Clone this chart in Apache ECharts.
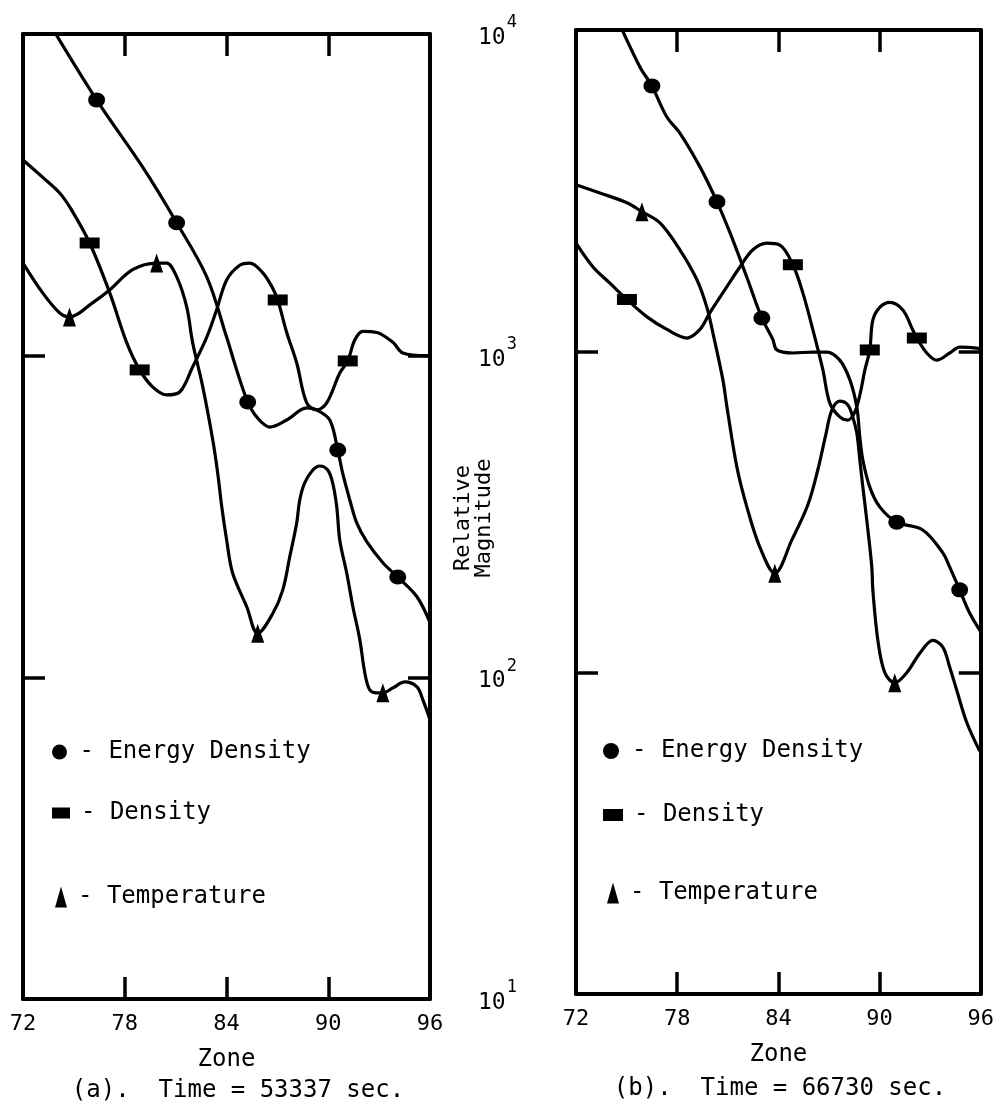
<!DOCTYPE html>
<html>
<head>
<meta charset="utf-8">
<script src="https://cdn.jsdelivr.net/npm/echarts@6/dist/echarts.min.js"></script>
<style>
  html, body { margin: 0; padding: 0; background: #fff; }
  #chart { width: 997px; height: 1108px; }
</style>
</head>
<body>
<div id="chart"></div>
<script>
const FONT = 'DejaVu Sans Mono';

// ---- Panel (a): Time = 53337 sec ----
const zoneEnergyA = [73.6, 76.34, 79.05, 81.06, 82.83, 84.01, 84.60, 85.25, 85.78, 86.55, 87.55, 88.73, 89.32, 90.09, 90.56, 90.85, 91.27, 91.68, 92.27, 93.22, 94.10, 95.23, 96.00];
const energyA     = [10700, 6240, 3860, 2590, 1760, 1140, 903, 718, 645, 600, 631, 688, 678, 631, 509, 431, 356, 302, 264, 227, 205, 178, 148];
const energyMarksA = [1, 3, 7, 14, 20];

const zoneDensityA = [72.00, 73.15, 74.15, 74.86, 75.93, 77.11, 78.11, 78.88, 79.64, 80.47, 81.24, 82.00, 82.83, 83.42, 84.01, 84.78, 85.37, 86.14, 86.67, 87.02, 87.55, 88.14, 88.73, 89.32, 89.91, 90.68, 91.15, 91.57, 92.04, 92.87, 93.81, 94.40, 95.82, 96.00];
const densityA     = [4060, 3590, 3210, 2840, 2240, 1570, 1100, 903, 800, 755, 771, 922, 1140, 1390, 1720, 1910, 1940, 1810, 1640, 1490, 1180, 949, 713, 678, 713, 883, 963, 1120, 1190, 1180, 1100, 1020, 1000, 1000];
const densityMarksA = [4, 7, 19, 26];

const zoneTempA = [72.00, 73.15, 74.15, 74.74, 76.10, 77.11, 78.46, 79.88, 80.47, 81.06, 81.65, 82.00, 82.60, 83.19, 83.48, 83.72, 84.01, 84.36, 85.19, 85.84, 86.73, 87.32, 87.73, 88.14, 88.32, 88.61, 89.09, 89.50, 89.97, 90.26, 90.50, 90.68, 91.09, 91.45, 91.86, 92.16, 92.45, 92.87, 93.22, 93.81, 94.52, 95.23, 95.58, 96.00];
const tempA     = [1940, 1570, 1360, 1320, 1460, 1600, 1850, 1940, 1940, 1760, 1420, 1100, 800, 547, 432, 339, 267, 211, 166, 137, 158, 187, 237, 302, 356, 402, 441, 454, 441, 402, 339, 267, 211, 166, 131, 103, 91.4, 89.5, 89.5, 92.7, 96.8, 93.4, 85.1, 73.8];
const tempMarksA = [3, 7, 19, 38];

// ---- Panel (b): Time = 66730 sec ----
const zoneEnergyB = [74.49, 75.79, 76.50, 77.39, 78.16, 79.35, 80.36, 81.13, 82.13, 83.02, 83.67, 83.91, 84.86, 86.04, 86.87, 87.64, 88.24, 88.65, 88.83, 89.01, 89.42, 90.01, 91.02, 92.56, 93.75, 94.16, 94.75, 95.35, 96.00];
const energyB     = [10700, 7670, 6700, 5360, 4780, 3750, 2920, 2340, 1700, 1270, 1090, 1010, 988, 995, 995, 939, 815, 671, 541, 459, 378, 328, 294, 278, 236, 213, 181, 153, 134];
const energyMarksB = [2, 6, 9, 22, 26];

const zoneDensityB = [72.00, 73.01, 74.01, 75.02, 76.21, 77.39, 78.58, 79.35, 79.94, 80.95, 81.72, 82.49, 83.32, 84.09, 84.86, 85.45, 86.04, 86.64, 87.05, 87.64, 88.12, 88.53, 88.83, 89.13, 89.42, 89.60, 90.01, 90.60, 91.38, 91.97, 92.21, 92.80, 93.39, 94.16, 94.76, 96.00];
const densityB     = [2170, 1830, 1630, 1450, 1280, 1170, 1100, 1170, 1320, 1590, 1830, 2070, 2170, 2140, 1860, 1520, 1170, 875, 690, 625, 611, 647, 731, 875, 1010, 1250, 1370, 1420, 1345, 1165, 1100, 988, 939, 988, 1030, 1020];
const densityMarksB = [3, 14, 24, 30];

const zoneTempB = [72.00, 73.42, 75.02, 75.91, 76.98, 78.16, 79.17, 79.76, 80.12, 80.71, 80.95, 81.54, 82.13, 82.90, 83.79, 84.80, 85.75, 86.34, 86.81, 87.17, 87.64, 88.12, 88.41, 88.65, 88.83, 89.01, 89.24, 89.54, 89.60, 89.90, 90.31, 90.90, 91.61, 92.39, 93.16, 93.75, 94.16, 94.58, 95.17, 95.94];
const tempB     = [3300, 3110, 2900, 2720, 2510, 2070, 1670, 1370, 1140, 815, 671, 436, 328, 246, 204, 259, 333, 428, 550, 656, 700, 681, 625, 557, 459, 378, 299, 213, 181, 126, 100, 93, 100, 115, 126, 120, 104, 88, 70, 57];
const tempMarksB = [3, 14, 31];

// ---- Axis ranges ----
const zoneMin = 72, zoneMax = 96, zoneStep = 6;
const magMin = 10, magMax = 10000;

// panel 0 uses xAxis 0 / yAxis 0, panel 1 uses xAxis 2 / yAxis 2
function curve(name, shape, size, zones, vals, marks, panel) {
  return {
    type: 'line',
    name: name,
    xAxisIndex: panel * 2,
    yAxisIndex: panel * 2,
    smooth: 0.35,
    symbol: 'none',
    lineStyle: { color: '#000', width: 3.2 },
    itemStyle: { color: '#000' },
    data: zones.map((z, i) => marks.includes(i)
      ? { value: [z, vals[i]], symbol: shape, symbolSize: size }
      : { value: [z, vals[i]], symbol: 'none' }),
    silent: true,
    z: 3
  };
}

const axisLineStyle = { show: true, lineStyle: { color: '#000', width: 4 } };
const tickStyle = { show: true, inside: true, length: 22, lineStyle: { color: '#000', width: 3.5 } };

function xAx(grid, pos, labels) {
  return {
    type: 'value', gridIndex: grid, position: pos,
    min: zoneMin, max: zoneMax, interval: zoneStep,
    axisLine: axisLineStyle, axisTick: tickStyle, splitLine: { show: false },
    axisLabel: labels ? { show: true, color: '#000', fontFamily: FONT, fontSize: 22, margin: 14 } : { show: false },
    name: labels ? 'Zone' : '',
    nameLocation: 'middle', nameGap: 49,
    nameTextStyle: { color: '#000', fontFamily: FONT, fontSize: 24 }
  };
}
function yAx(grid, pos, labels) {
  return {
    type: 'log', logBase: 10, gridIndex: grid, position: pos,
    min: magMin, max: magMax,
    axisLine: axisLineStyle, axisTick: tickStyle, splitLine: { show: false },
    axisLabel: labels ? {
      show: true, margin: 48, align: 'left', color: '#000', fontFamily: FONT,
      formatter: v => '{b|10}{s|' + Math.round(Math.log10(v)) + '}',
      rich: {
        b: { fontFamily: FONT, fontSize: 23, color: '#000', padding: [8, 0, 0, 0] },
        s: { fontFamily: FONT, fontSize: 17, color: '#000', padding: [0, 0, 22, 1] }
      }
    } : { show: false }
  };
}

function legendRow(name, shape, w, h, left, top) {
  return {
    left: left, top: top, padding: 0, selectedMode: false,
    itemWidth: w, itemHeight: h,
    data: [{ name: name, icon: shape }],
    formatter: '- {name}',
    itemStyle: { color: '#000' },
    textStyle: { color: '#000', fontFamily: FONT, fontSize: 24, padding: [0, 0, 0, 6] }
  };
}

const option = {
  backgroundColor: '#fff',
  animation: false,
  grid: [
    { left: 23, top: 34, width: 407, height: 965 },
    { left: 576, top: 30, width: 405, height: 964 }
  ],
  xAxis: [xAx(0, 'bottom', true), xAx(0, 'top', false), xAx(1, 'bottom', true), xAx(1, 'top', false)],
  yAxis: [yAx(0, 'left', false), yAx(0, 'right', true), yAx(1, 'left', false), yAx(1, 'right', false)],
  legend: [
    legendRow('Energy Density', 'circle', 18, 15, 52, 740),
    legendRow('Density', 'rect', 18, 11, 52, 801),
    legendRow('Temperature', 'triangle', 12, 21, 55, 885),
    legendRow('Energy Density', 'circle', 20, 16, 603, 739),
    legendRow('Density', 'rect', 20, 12, 603, 803),
    legendRow('Temperature', 'triangle', 12, 21, 607, 881)
  ],
  series: [
    curve('Energy Density', 'circle', [17, 15], zoneEnergyA, energyA, energyMarksA, 0),
    curve('Density', 'rect', [20, 11], zoneDensityA, densityA, densityMarksA, 0),
    curve('Temperature', 'triangle', [13, 19], zoneTempA, tempA, tempMarksA, 0),
    curve('Energy Density', 'circle', [17, 15], zoneEnergyB, energyB, energyMarksB, 1),
    curve('Density', 'rect', [20, 11], zoneDensityB, densityB, densityMarksB, 1),
    curve('Temperature', 'triangle', [13, 19], zoneTempB, tempB, tempMarksB, 1)
  ],
  graphic: [
    { type: 'text', x: 238, y: 1091, style: { text: '(a).  Time = 53337 sec.', align: 'center', verticalAlign: 'middle', fontFamily: FONT, fontSize: 24, fill: '#000' } },
    { type: 'text', x: 780, y: 1089, style: { text: '(b).  Time = 66730 sec.', align: 'center', verticalAlign: 'middle', fontFamily: FONT, fontSize: 24, fill: '#000' } },
    { type: 'text', x: 474, y: 518, rotation: Math.PI / 2, style: { text: 'Relative\nMagnitude', align: 'center', verticalAlign: 'middle', fontFamily: FONT, fontSize: 22, lineHeight: 21, fill: '#000' } }
  ]
};

echarts.init(document.getElementById('chart'), null, { renderer: 'canvas' }).setOption(option);
</script>
</body>
</html>
